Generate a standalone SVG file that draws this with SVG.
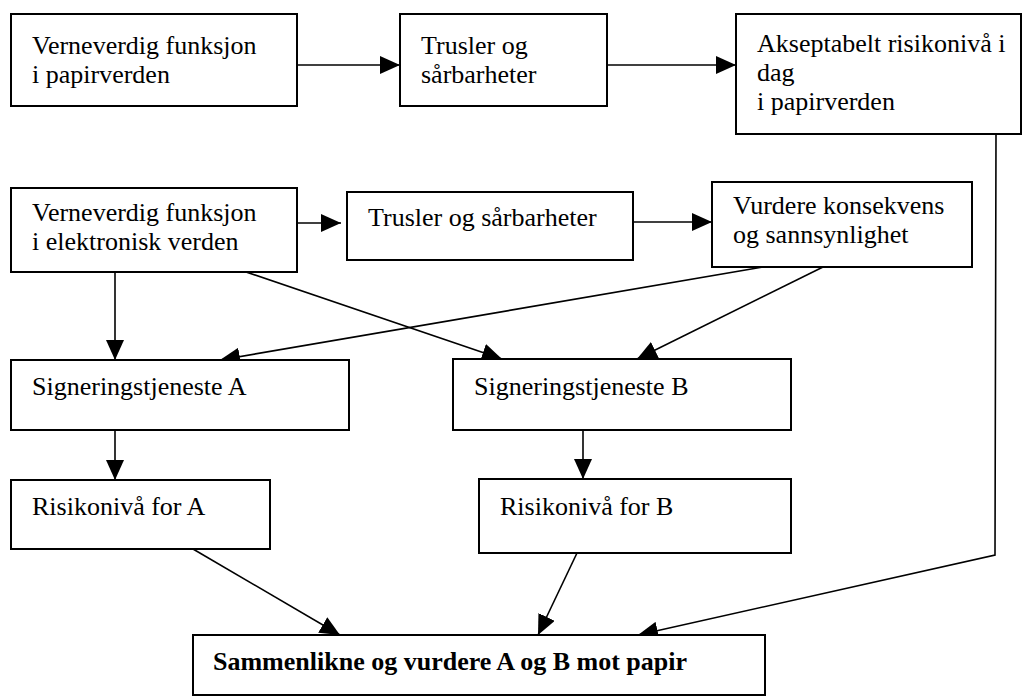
<svg xmlns="http://www.w3.org/2000/svg" width="1029" height="697" viewBox="0 0 1029 697">
<style>
.box{fill:#fff;stroke:#000;stroke-width:2}
.t{font-family:"Liberation Serif","Times New Roman","DejaVu Serif",serif;font-size:26px;fill:#000}
.b{font-weight:bold}
.c{fill:none;stroke:#000;stroke-width:1.6}
</style>
<defs>
<marker id="ah" markerWidth="20" markerHeight="18" refX="20" refY="9" orient="auto" markerUnits="userSpaceOnUse">
<path d="M0,0 L20,9 L0,18 Z" fill="#000"/>
</marker>
</defs>
<rect width="1029" height="697" fill="#fff"/>
<g id="connectors">
<line class="c" x1="297" y1="65" x2="400" y2="65" marker-end="url(#ah)"/>
<line class="c" x1="607" y1="65" x2="736" y2="65" marker-end="url(#ah)"/>
<line class="c" x1="297" y1="223" x2="341" y2="223" marker-end="url(#ah)"/>
<line class="c" x1="633" y1="222" x2="712" y2="222" marker-end="url(#ah)"/>
<polyline class="c" points="996,134 995,555 638,635" marker-end="url(#ah)"/>
<line class="c" x1="115" y1="272" x2="115" y2="360" marker-end="url(#ah)"/>
<line class="c" x1="246" y1="272" x2="502" y2="359" marker-end="url(#ah)"/>
<line class="c" x1="763" y1="267" x2="220" y2="360" marker-end="url(#ah)"/>
<line class="c" x1="823" y1="267" x2="637" y2="359" marker-end="url(#ah)"/>
<line class="c" x1="115" y1="430" x2="115" y2="480" marker-end="url(#ah)"/>
<line class="c" x1="583" y1="430" x2="583" y2="479" marker-end="url(#ah)"/>
<line class="c" x1="193" y1="549" x2="340" y2="635" marker-end="url(#ah)"/>
<line class="c" x1="577" y1="553" x2="538" y2="635" marker-end="url(#ah)"/>
</g>
<g id="n1"><rect class="box" x="11" y="14" width="286" height="92"/>
<text class="t" x="32" y="54">Verneverdig funksjon</text><text class="t" x="32" y="83">i papirverden</text></g>
<g id="n2"><rect class="box" x="400" y="14" width="207" height="92"/>
<text class="t" x="421" y="54">Trusler og</text><text class="t" x="421" y="83">sårbarheter</text></g>
<g id="n3"><rect class="box" x="736" y="14" width="285" height="120"/>
<text class="t" x="757" y="52">Akseptabelt risikonivå i</text><text class="t" x="757" y="81">dag</text><text class="t" x="757" y="110">i papirverden</text></g>
<g id="n4"><rect class="box" x="11" y="188" width="286" height="84"/>
<text class="t" x="32" y="221">Verneverdig funksjon</text><text class="t" x="32" y="250">i elektronisk verden</text></g>
<g id="n5"><rect class="box" x="347" y="192" width="286" height="68"/>
<text class="t" x="368" y="226">Trusler og sårbarheter</text></g>
<g id="n6"><rect class="box" x="712" y="182" width="260" height="85"/>
<text class="t" x="733" y="214">Vurdere konsekvens</text><text class="t" x="733" y="243">og sannsynlighet</text></g>
<g id="n7"><rect class="box" x="11" y="360" width="338" height="70"/>
<text class="t" x="32" y="395">Signeringstjeneste A</text></g>
<g id="n8"><rect class="box" x="453" y="359" width="338" height="71"/>
<text class="t" x="474" y="395">Signeringstjeneste B</text></g>
<g id="n9"><rect class="box" x="11" y="480" width="259" height="69"/>
<text class="t" x="32" y="515">Risikonivå for A</text></g>
<g id="n10"><rect class="box" x="479" y="479" width="312" height="74"/>
<text class="t" x="500" y="515">Risikonivå for B</text></g>
<g id="n11"><rect class="box" x="193" y="635" width="572" height="60"/>
<text class="t b" x="213" y="670">Sammenlikne og vurdere A og B mot papir</text></g>
</svg>
